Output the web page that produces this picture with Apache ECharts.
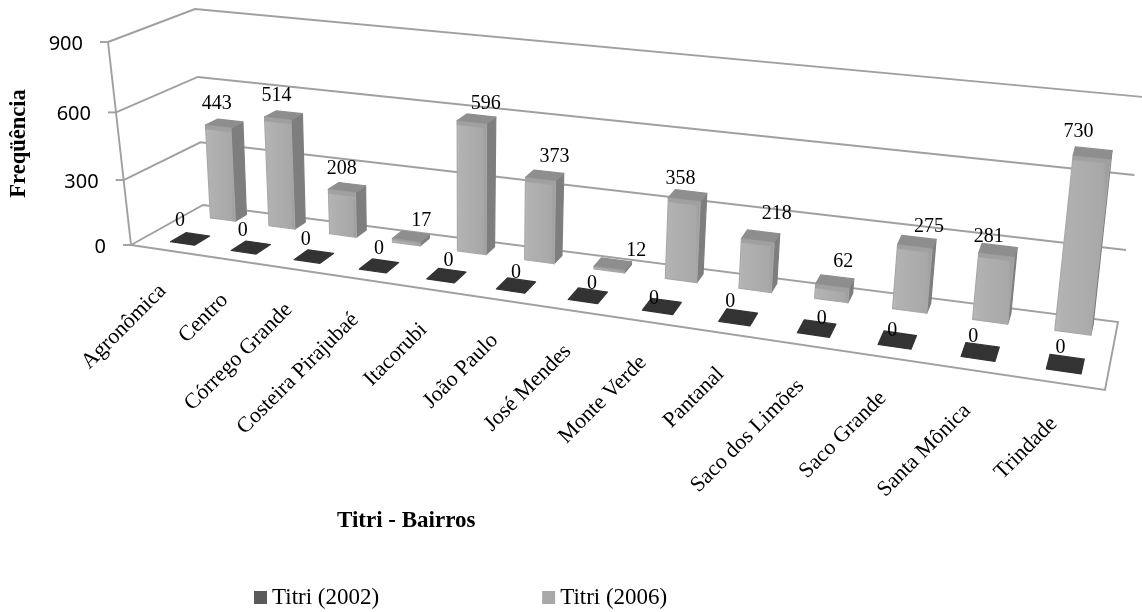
<!DOCTYPE html>
<html><head><meta charset="utf-8">
<style>html,body{margin:0;padding:0;background:#fff;overflow:hidden}#c{width:1142px;height:612px;filter:blur(0.35px)}</style>
<script src="https://cdn.jsdelivr.net/npm/echarts@6/dist/echarts.min.js"></script>
</head><body><div id="c"></div>
<script>
const categories = ['Agronômica','Centro','Córrego Grande','Costeira Pirajubaé','Itacorubi','João Paulo','José Mendes','Monte Verde','Pantanal','Saco dos Limões','Saco Grande','Santa Mônica','Trindade'];
const titri2002 = [0,0,0,0,0,0,0,0,0,0,0,0,0];
const titri2006 = [443,514,208,17,596,373,12,358,218,62,275,281,730];
const valueTicks = [0,300,600,900];

// Hand placement of the value labels (they sit irregularly in the original).
const nudge2002 = [[-10,-18],[-8,-17],[-8,-17],[0,-17],[2,-15],[0,-13],[4,-12],[-8,-8],[-8,-16],[5,-10],[-5,-9],[-7,-15],[-5,-16]];
const nudge2006 = [[-1,-18],[-1,-17],[0,-20],[15,-19],[14,-12],[14,-18],[27,-17],[-4,-17],[19,-24],[11,-24],[14,-16],[-8,-15],[-14,-17]];

const SERIF = '"Liberation Serif","Times New Roman",serif';
const G = {left:131, top:42, width:974, height:203};

// Corners of the 3D box on screen: front/back, left/right
const floorC = {f0:[131,245], f1:[1105,390], b0:[203,205], b1:[1118,322]};
const rise   = {f0:[-23,-203], f1:[30,-240], b0:[-8,-196], b1:[25,-225]};
const WARP = 0.2, WALL_WARP = 0.06, BAR_H = 0.95;
const lerp=(a,b,t)=>a+(b-a)*t;
function warp(u){return u+WARP*u*(u-1);}
function project(u,d,f){
  const s=warp(u);
  return [0,1].map(k=>{
    const base=lerp(lerp(floorC.f0[k],floorC.f1[k],s),lerp(floorC.b0[k],floorC.b1[k],s),d);
    const r=lerp(lerp(rise.f0[k],rise.f1[k],s),lerp(rise.b0[k],rise.b1[k],s),d);
    return base+r*f;
  });
}
// data (cat index, value) -> unit box coordinates through the axes' own scales
function toUnit(api,i,v){
  const c=api.coord([i,v]);
  return {u:(c[0]-G.left)/G.width, f:(G.top+G.height-c[1])/G.height};
}
function poly(pts,fill,stroke,lw){
  return {type:'polygon',shape:{points:pts},silent:true,
    style:{fill:fill,stroke:stroke||fill,lineWidth:lw==null?1.2:lw,lineJoin:'round'}};
}
const wallStyle=()=>({stroke:'#a0a0a0',lineWidth:1.9,fill:'none'});

function boxRender(d0,d1,colors,nudges,labelD,hwRatio){
  return function(params,api){
    const i=api.value(0), v=api.value(1);
    const {u,f}=toUnit(api,i,v);
    const hw=api.size([1,0])[0]/G.width*hwRatio;
    const fb=f*BAR_H;
    const A=project(u-hw,d0,0),B=project(u+hw,d0,0),C=project(u+hw,d0,fb),D=project(u-hw,d0,fb);
    const E=project(u+hw,d1,0),F=project(u+hw,d1,fb),H=project(u-hw,d1,fb);
    const children=[];
    if(v>0){
      children.push(poly([B,E,F,C],colors.side));
      const grad=new echarts.graphic.LinearGradient(0,0,1,0,[
        {offset:0,color:colors.edge},{offset:0.12,color:colors.face},
        {offset:0.85,color:colors.face2},{offset:1,color:colors.edge2}]);
      children.push(poly([A,B,C,D],grad,colors.face2,1.2));
    }
    children.push(poly([D,C,F,H],colors.top));
    if(v>0){
      const strip=Math.min(4,(A[1]-D[1])*0.35);
      children.push(poly([D,C,[C[0],C[1]+strip],[D[0],D[1]+strip]],colors.bevel,colors.bevel,0.5));
    }
    const p=project(u,labelD,f), n=nudges[i];
    children.push({type:'text',x:p[0]+n[0],y:p[1]+n[1],z2:50,silent:true,style:{text:String(v),font:'20px '+SERIF,fill:'#000',align:'center',verticalAlign:'middle'}});
    return {type:'group',children:children};
  };
}

const option={
  animation:false,
  backgroundColor:'#fff',
  title:{text:'Titri - Bairros',left:332,top:505,textStyle:{fontFamily:SERIF,fontWeight:'bold',fontSize:23,color:'#000'}},
  legend:{
    data:['Titri (2002)','Titri (2006)'],left:249,top:581,itemWidth:13,itemHeight:13,itemGap:163,icon:'rect',
    textStyle:{fontFamily:SERIF,fontSize:23,color:'#000'}
  },
  grid:{left:G.left,top:G.top,width:G.width,height:G.height},
  xAxis:{type:'category',data:categories,show:false},
  yAxis:{type:'value',min:0,max:900,interval:300,name:'Freqüência',nameLocation:'middle',nameGap:111,
    nameTextStyle:{fontFamily:SERIF,fontWeight:'bold',fontSize:22.5,color:'#000'},
    axisLine:{show:false},axisTick:{show:false},axisLabel:{show:false},splitLine:{show:false}},
  series:[
    {type:'custom',name:'walls',silent:true,z:1,data:valueTicks.map(t=>[0,t]),encode:{x:0,y:1},
      renderItem(params,api){
        const v=api.value(1), raw=toUnit(api,0,v).f, f=raw+WALL_WARP*raw*(raw-1), c=[];
        const p0=project(0,0,f),p1=project(0,1,f),p2=project(1,1,f);
        const pts=f>0.001?[p0,p1,p2]:[p0,p1,p2,project(1,0,0),p0];
        c.push({type:'polyline',shape:{points:pts},style:wallStyle(),silent:true});
        c.push({type:'line',shape:{x1:p0[0]-8,y1:p0[1],x2:p0[0],y2:p0[1]},style:wallStyle(),silent:true});
        if(f<=0.001){
          const top=project(0,0,1);
          c.push({type:'line',shape:{x1:p0[0],y1:p0[1],x2:top[0],y2:top[1]},style:wallStyle(),silent:true});
        }
        c.push({type:'text',x:p0[0]-25,y:p0[1]+2,silent:true,style:{text:String(v),font:'20px "Noto Sans",sans-serif',fill:'#000',align:'right',verticalAlign:'middle'}});
        return {type:'group',children:c};
      }},
    {type:'custom',name:'Titri (2006)',z:2,itemStyle:{color:'#a8a8a8'},data:titri2006.map((v,i)=>[i,v]),encode:{x:0,y:1},
      renderItem:boxRender(0.76,0.92,{side:'#7e7e7e',face:'#b2b2b2',face2:'#a8a8a8',edge:'#bcbcbc',edge2:'#989898',top:'#8e8e8e',bevel:'#a0a0a0'},nudge2006,0.76,0.215)},
    {type:'custom',name:'Titri (2002)',z:3,itemStyle:{color:'#5a5a5a'},data:titri2002.map((v,i)=>[i,v]),encode:{x:0,y:1},
      renderItem:boxRender(0.18,0.40,{side:'#222',face:'#333',face2:'#333',edge:'#444',edge2:'#222',top:'#333333',bevel:'#333'},nudge2002,0.29,0.2)},
    {type:'custom',name:'labels',silent:true,z:4,data:categories.map((c,i)=>[i,0]),encode:{x:0,y:1},
      renderItem(params,api){
        const i=api.value(0), {u}=toUnit(api,i,0), p=project(u,0,0);
        return {type:'text',x:p[0]-7,y:p[1]+37,rotation:Math.PI/4,silent:true,
          style:{text:categories[i],font:'22px '+SERIF,fill:'#000',align:'right',verticalAlign:'middle'}};
      }}
  ]
};
const chart=echarts.init(document.getElementById('c'),null,{renderer:'canvas'});
chart.setOption(option);
</script></body></html>
